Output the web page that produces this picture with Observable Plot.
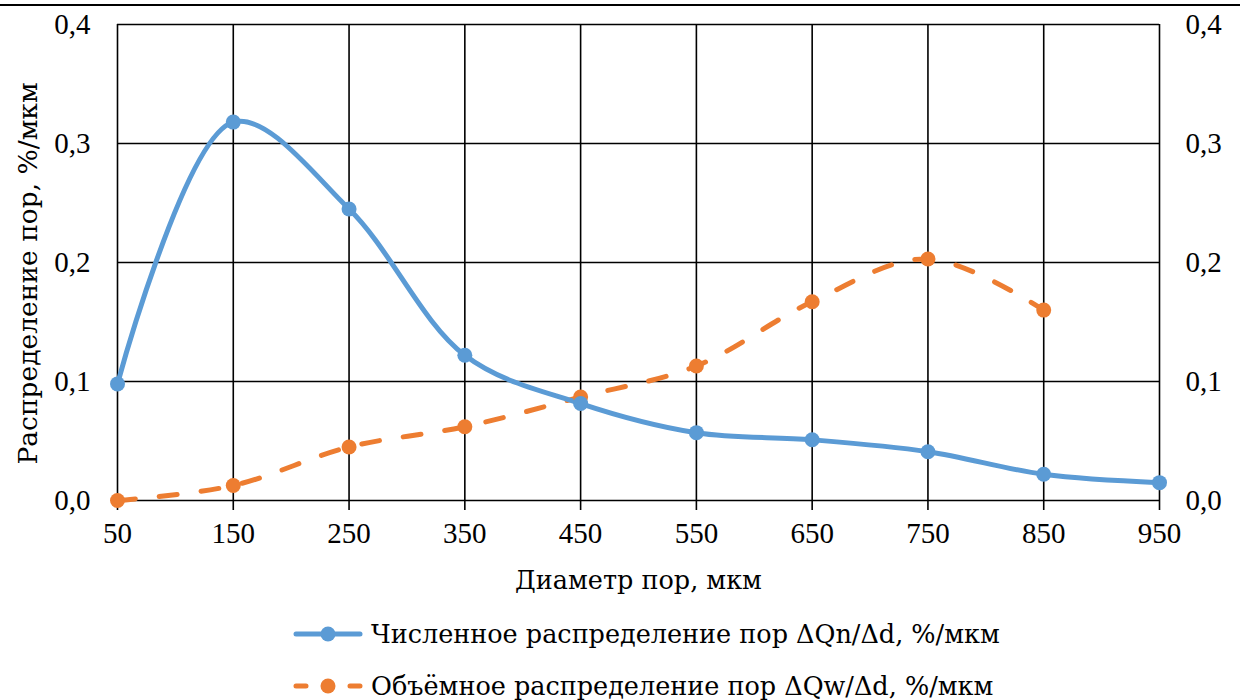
<!DOCTYPE html>
<html>
<head>
<meta charset="utf-8">
<script src="https://cdn.jsdelivr.net/npm/d3@7"></script>
<script src="https://cdn.jsdelivr.net/npm/@observablehq/plot@0.6"></script>
<style>
  html, body { margin: 0; padding: 0; background: #fff; }
  body { width: 1240px; height: 700px; overflow: hidden; font-family: "DejaVu Serif", "Liberation Serif", serif; position: relative; }
  #topline { position: absolute; left: 0; top: 4px; width: 1240px; height: 0; border-top: 2px solid #000; }
  #chart { position: absolute; left: 0; top: 0; }
  .legend { position: absolute; left: 293px; top: 608px; font-size: 25.5px; color: #000; }
  .row { display: flex; align-items: center; height: 52px; }
  .row svg { margin-right: 8px; }
</style>
</head>
<body>
<div id="topline"></div>
<div id="chart"></div>
<div class="legend">
  <div class="row"><svg width="70" height="20"><line x1="3" y1="10" x2="67" y2="10" stroke="#5B9BD5" stroke-width="5" stroke-linecap="round"/><circle cx="35" cy="10" r="7.5" fill="#5B9BD5"/></svg><span id="lg1"></span></div>
  <div class="row"><svg width="70" height="20"><line x1="3" y1="10" x2="67" y2="10" stroke="#ED7D31" stroke-width="5" stroke-dasharray="10,44" stroke-linecap="round"/><circle cx="35" cy="10" r="7.5" fill="#ED7D31"/></svg><span id="lg2"></span></div>
</div>
<script>
const diameters = [50, 150, 250, 350, 450, 550, 650, 750, 850, 950];
const numberDist = [0.098, 0.318, 0.245, 0.122, 0.0815, 0.057, 0.051, 0.041, 0.022, 0.015];
const volumeDiameters = [50, 150, 250, 350, 450, 550, 650, 750, 850];
const volumeDist = [0.0, 0.0126, 0.045, 0.062, 0.087, 0.113, 0.167, 0.203, 0.160];
const yTicks = [0, 0.1, 0.2, 0.3, 0.4];
const xTicks = diameters;
const seriesNames = ["Численное распределение пор ΔQn/Δd, %/мкм", "Объёмное распределение пор ΔQw/Δd, %/мкм"];
const xLabel = "Диаметр пор, мкм";
const yLabel = "Распределение пор, %/мкм";

document.getElementById("lg1").textContent = seriesNames[0];
document.getElementById("lg2").textContent = seriesNames[1];

const num = diameters.map((d, i) => ({d, v: numberDist[i]}));
const vol = volumeDiameters.map((d, i) => ({d, v: volumeDist[i]}));
const fmt = v => v.toFixed(1).replace(".", ",");
const BLUE = "#5B9BD5", ORANGE = "#ED7D31";
const FONT = "Liberation Serif, DejaVu Serif, serif";
const CYR = "DejaVu Serif, Liberation Serif, serif";

const chart = Plot.plot({
  width: 1240,
  height: 600,
  marginTop: 24,
  marginBottom: 100,
  marginLeft: 117,
  marginRight: 81,
  style: { fontFamily: FONT, fontSize: "29px", color: "#000", background: "transparent" },
  x: { domain: [50, 950] },
  y: { domain: [0, 0.4] },
  marks: [
    Plot.ruleX(xTicks, { stroke: "#000", strokeWidth: 1.6 }),
    Plot.ruleY(yTicks, { stroke: "#000", strokeWidth: 1.6 }),
    Plot.axisX({ ticks: xTicks, tickSize: 10, tickPadding: 12, tickFormat: d => String(d), label: null, strokeWidth: 1.6, fontSize: 29 }),
    Plot.axisY({ anchor: "left", ticks: yTicks, tickSize: 0, tickPadding: 27, tickFormat: fmt, label: null, fontSize: 29 }),
    Plot.axisY({ anchor: "right", ticks: yTicks, tickSize: 0, tickPadding: 26, tickFormat: fmt, label: null, fontSize: 29 }),
    Plot.line(vol, { x: "d", y: "v", stroke: ORANGE, strokeWidth: 5, strokeDasharray: "18,24", strokeLinecap: "round", curve: "catmull-rom" }),
    Plot.line(num, { x: "d", y: "v", stroke: BLUE, strokeWidth: 5, curve: "catmull-rom" }),
    Plot.dot(vol, { x: "d", y: "v", r: 7.5, fill: ORANGE, stroke: null }),
    Plot.dot(num, { x: "d", y: "v", r: 7.5, fill: BLUE, stroke: null }),
    Plot.text([xLabel], { frameAnchor: "bottom", dy: 88, fontSize: 25.5, fill: "#000", fontFamily: CYR }),
    Plot.text([yLabel], { frameAnchor: "left", textAnchor: "middle", dx: -89, dy: 11, rotate: -90, fontSize: 26.5, fill: "#000", fontFamily: CYR })
  ]
});
document.getElementById("chart").appendChild(chart);
</script>
</body>
</html>
